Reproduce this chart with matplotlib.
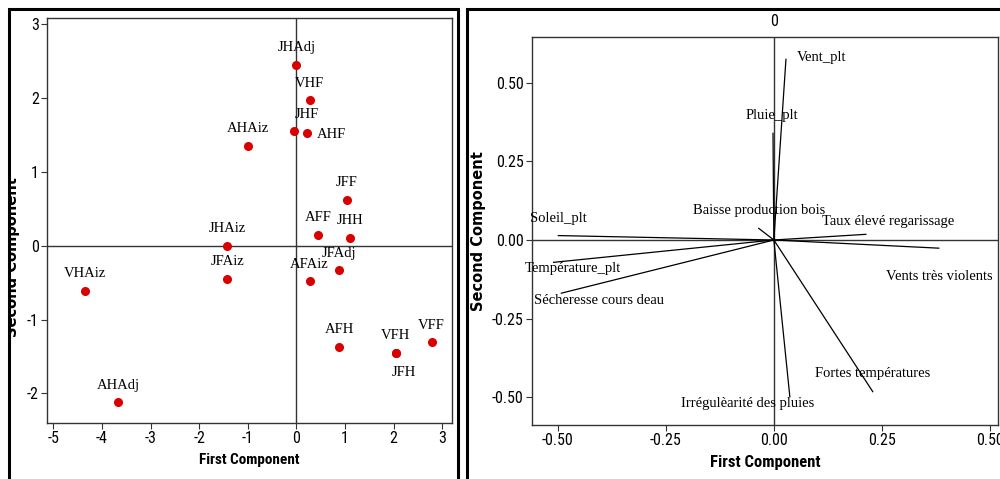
import numpy as np
import matplotlib
matplotlib.use("Agg")
import matplotlib.pyplot as plt
from matplotlib import font_manager as fm
from matplotlib.patches import Rectangle
from matplotlib.ticker import FormatStrFormatter

# score plot (observations)
obs_labels = ["JHAdj", "VHF", "JHF", "AHF", "AHAiz", "JFF", "AFF", "JHH", "JHAiz",
              "JFAiz", "JFAdj", "AFAiz", "VHAiz", "AFH", "VFH", "JFH", "VFF", "AHAdj"]
obs_pc1 = [0.00, 0.27, -0.04, 0.22, -0.99, 1.04, 0.44, 1.10, -1.42,
           -1.42, 0.88, 0.27, -4.35, 0.88, 2.04, 2.04, 2.78, -3.66]
obs_pc2 = [2.45, 1.97, 1.55, 1.53, 1.35, 0.62, 0.15, 0.11, 0.00,
           -0.45, -0.33, -0.48, -0.61, -1.37, -1.45, -1.45, -1.31, -2.12]

# loading plot (variables)
var_labels = ["Vent_plt", "Pluie_plt", "Baisse production bois", "Taux élevé regarissage",
              "Soleil_plt", "Température_plt", "Sécheresse cours deau",
              "Vents très violents", "Fortes températures", "Irrégulèarité des pluies"]
var_pc1 = [0.028, -0.002, -0.035, 0.213, -0.499, -0.510, -0.492, 0.382, 0.229, 0.037]
var_pc2 = [0.574, 0.339, 0.037, 0.018, 0.014, -0.071, -0.169, -0.026, -0.482, -0.498]

# label offsets in pixels (dx, dy), layout only
obs_off = {"JHF": (12, 17), "AHF": (24, -2), "JFH": (8, -20)}
var_off = {"Vent_plt": (11, 2, "left"), "Pluie_plt": (-1, 18, "center"),
           "Baisse production bois": (0, 18, "center"),
           "Taux élevé regarissage": (22, 13, "center"),
           "Soleil_plt": (0, 17, "center"), "Température_plt": (19, -6, "center"),
           "Sécheresse cours deau": (38, -7, "center"),
           "Vents très violents": (0, -28, "center"),
           "Fortes températures": (0, 18, "center"),
           "Irrégulèarité des pluies": (-42, -7, "center")}

plt.rcParams["axes.unicode_minus"] = False

# narrow sans for ticks if there is one
names = {f.name for f in fm.fontManager.ttflist}
narrow = next((n for n in ["Liberation Sans Narrow", "Arial Narrow", "Roboto Condensed",
                           "Open Sans Condensed", "Noto Sans Condensed"] if n in names), None)
if narrow:
    tick_kw = dict(family=[narrow, "DejaVu Sans"], fontsize=11.5)
    xlab_font = dict(family=[narrow, "DejaVu Sans"], fontweight="bold")
    xl_sizes = (11, 12)
else:
    tick_kw = dict(family="DejaVu Sans", fontstretch="condensed", fontsize=9.5)
    xlab_font = dict(family="DejaVu Sans", fontstretch="condensed", fontweight="bold")
    xl_sizes = (9, 9.5)
lab_font = ["Liberation Serif", "DejaVu Serif"]

fig = plt.figure(figsize=(10, 4.79), dpi=100)
fig.patch.set_facecolor("white")

# outer panel frames
fig.patches.append(Rectangle((0, 0), 10 / 1000, 1, transform=fig.transFigure,
                             fc="white", ec="none", zorder=4))
fig.patches.append(Rectangle((9 / 1000, -0.05), 449 / 1000, 1.05 - 9 / 479, transform=fig.transFigure,
                             fill=False, lw=2.2, ec="black", zorder=5))
fig.patches.append(Rectangle((467 / 1000, -0.05), 0.6, 1.05 - 9 / 479, transform=fig.transFigure,
                             fill=False, lw=2.2, ec="black", zorder=5))


def style_axes(ax):
    for s in ax.spines.values():
        s.set_color("#333333")
        s.set_linewidth(1.0)
    ax.tick_params(direction="out", length=4, width=0.8, color="#333333", pad=2)
    for t in ax.get_xticklabels() + ax.get_yticklabels():
        t.update(tick_kw)
    ax.axhline(0, color="#333333", lw=1.0, zorder=1)
    ax.axvline(0, color="#333333", lw=1.0, zorder=1)


# left: scores
ax1 = fig.add_axes([0.047, 0.1169, 0.405, 0.8455])
ax1.set_xlim(-5.13, 3.2)
ax1.set_ylim(-2.40, 3.08)
ax1.set_xticks(range(-5, 4))
ax1.set_yticks(range(-2, 4))
ax1.plot(obs_pc1, obs_pc2, "o", color="#d90000", ms=5.5, zorder=3)
for lab, x, y in zip(obs_labels, obs_pc1, obs_pc2):
    dx, dy = obs_off.get(lab, (0, 17))
    ax1.annotate(lab, (x, y), xytext=(dx, dy), textcoords="offset pixels",
                 ha="center", va="center", fontsize=10.5, family=lab_font)
style_axes(ax1)
ax1.set_xlabel("First Component", labelpad=5, fontsize=xl_sizes[0], **xlab_font)

# y label of the left panel is half hidden behind the frame
fig.text(0.0125, 0.463, "Second Component", rotation=90, ha="center", va="center",
         family="DejaVu Sans", fontweight="bold", fontsize=10.5, zorder=3)

# right: loadings
ax2 = fig.add_axes([0.532, 0.1127, 0.466, 0.810])
ax2.set_xlim(-0.56, 0.519)
ax2.set_ylim(-0.588, 0.645)
ax2.set_xticks([-0.5, -0.25, 0, 0.25, 0.5])
ax2.set_yticks([-0.5, -0.25, 0, 0.25, 0.5])
ax2.xaxis.set_major_formatter(FormatStrFormatter("%.2f"))
ax2.yaxis.set_major_formatter(FormatStrFormatter("%.2f"))
for lab, x, y in zip(var_labels, var_pc1, var_pc2):
    ax2.plot([0, x], [0, y], color="black", lw=0.9, zorder=2)
    dx, dy, ha = var_off[lab]
    ax2.annotate(lab, (x, y), xytext=(dx, dy), textcoords="offset pixels",
                 ha=ha, va="center", fontsize=10.5, family=lab_font)
style_axes(ax2)
ax2.set_xlabel("First Component", labelpad=5, fontsize=xl_sizes[1], **xlab_font)
ax2.set_ylabel("Second Component", family="DejaVu Sans", fontweight="bold", fontsize=10.5, labelpad=4)

top = ax2.secondary_xaxis("top")
top.set_xticks([0])
top.set_xticklabels(["0"])
top.tick_params(length=0, pad=6)
top.spines["top"].set_visible(False)
for t in top.get_xticklabels():
    t.update(tick_kw)

fig.savefig("out.png", dpi=100)
